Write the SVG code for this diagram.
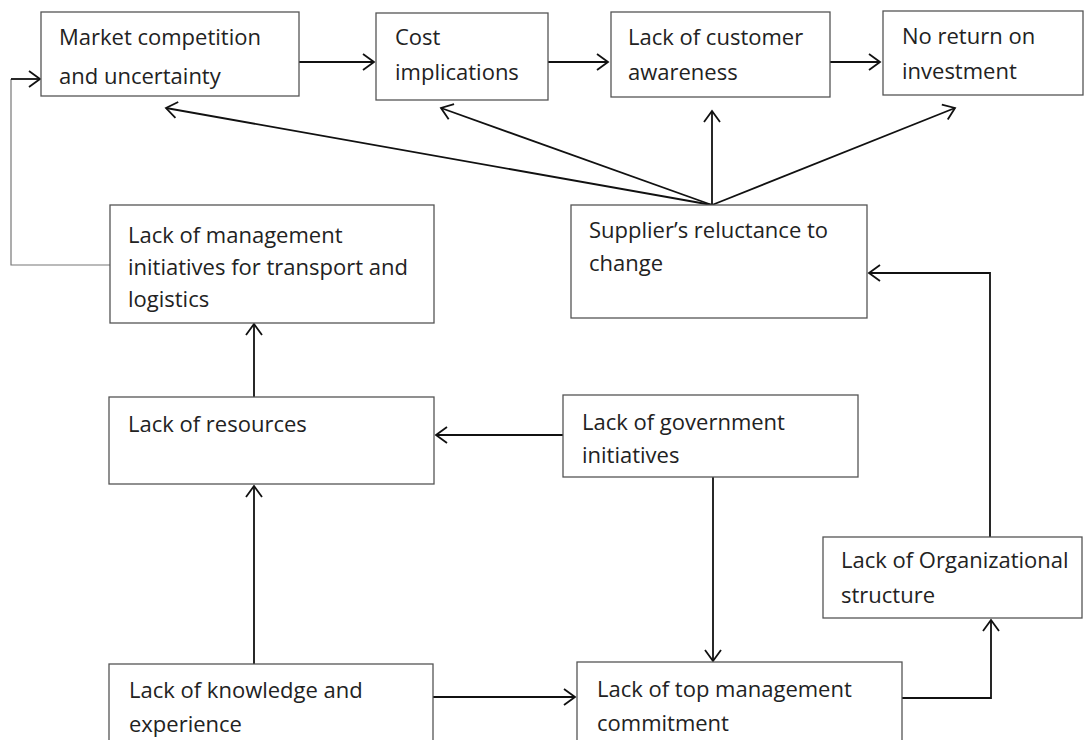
<svg xmlns="http://www.w3.org/2000/svg" width="1084" height="740" viewBox="0 0 1084 740">
  <defs>
    <style>
      .box{fill:#fff;stroke:#555;stroke-width:1.3}
      .t{font-family:"Open Sans","Liberation Sans",sans-serif;font-size:22px;fill:#222}
      .c{fill:none;stroke:#111;stroke-width:1.8}
      .thin{fill:none;stroke:#777;stroke-width:1.2}
    </style>
    <marker id="ah" viewBox="-13 -9 15 18" refX="0" refY="0" markerWidth="15" markerHeight="18" markerUnits="userSpaceOnUse" orient="auto">
      <path d="M-11,-8 L0,0 L-11,8" fill="none" stroke="#111" stroke-width="1.8"/>
    </marker>
  </defs>
  <rect width="1084" height="740" fill="#fff"/>

  <g id="connectors">
    <path class="c" d="M299,62 H374" marker-end="url(#ah)"/>
    <path class="c" d="M548,62 H608" marker-end="url(#ah)"/>
    <path class="c" d="M830,62 H880" marker-end="url(#ah)"/>
    <path class="thin" d="M110,265 H11 V79"/>
    <path class="c" d="M11,79 H40" marker-end="url(#ah)"/>
    <path class="c" d="M712,205 L166,108" marker-end="url(#ah)"/>
    <path class="c" d="M712,205 L441,108" marker-end="url(#ah)"/>
    <path class="c" d="M712,205 V111" marker-end="url(#ah)"/>
    <path class="c" d="M712,205 L955,108" marker-end="url(#ah)"/>
    <path class="c" d="M254,397 V324" marker-end="url(#ah)"/>
    <path class="c" d="M563,435 H436" marker-end="url(#ah)"/>
    <path class="c" d="M254,664 V486" marker-end="url(#ah)"/>
    <path class="c" d="M433,697 H575" marker-end="url(#ah)"/>
    <path class="c" d="M713,477 V661" marker-end="url(#ah)"/>
    <path class="c" d="M902,698 H991 V620" marker-end="url(#ah)"/>
    <path class="c" d="M990,537 V273 H869" marker-end="url(#ah)"/>
  </g>

  <g id="market">
    <rect class="box" x="41" y="12" width="258" height="84"/>
    <text class="t" x="59" y="45">Market competition</text>
    <text class="t" x="59" y="84">and uncertainty</text>
  </g>
  <g id="cost">
    <rect class="box" x="376" y="13" width="172" height="87"/>
    <text class="t" x="395" y="45">Cost</text>
    <text class="t" x="395" y="80">implications</text>
  </g>
  <g id="customer">
    <rect class="box" x="611" y="12" width="219" height="85"/>
    <text class="t" x="628" y="45">Lack of customer</text>
    <text class="t" x="628" y="80">awareness</text>
  </g>
  <g id="noreturn">
    <rect class="box" x="883" y="11" width="200" height="84"/>
    <text class="t" x="902" y="44">No return on</text>
    <text class="t" x="902" y="79">investment</text>
  </g>
  <g id="mgmt">
    <rect class="box" x="110" y="205" width="324" height="118"/>
    <text class="t" x="128" y="243">Lack of management</text>
    <text class="t" x="128" y="275">initiatives for transport and</text>
    <text class="t" x="128" y="307">logistics</text>
  </g>
  <g id="supplier">
    <rect class="box" x="571" y="205" width="296" height="113"/>
    <text class="t" x="589" y="238">Supplier’s reluctance to</text>
    <text class="t" x="589" y="271">change</text>
  </g>
  <g id="resources">
    <rect class="box" x="109" y="397" width="325" height="87"/>
    <text class="t" x="128" y="432">Lack of resources</text>
  </g>
  <g id="government">
    <rect class="box" x="563" y="395" width="295" height="82"/>
    <text class="t" x="582" y="430">Lack of government</text>
    <text class="t" x="582" y="463">initiatives</text>
  </g>
  <g id="org">
    <rect class="box" x="823" y="537" width="259" height="81"/>
    <text class="t" x="841" y="568">Lack of Organizational</text>
    <text class="t" x="841" y="603">structure</text>
  </g>
  <g id="knowledge">
    <rect class="box" x="109" y="664" width="324" height="90"/>
    <text class="t" x="129" y="698">Lack of knowledge and</text>
    <text class="t" x="129" y="732">experience</text>
  </g>
  <g id="topmgmt">
    <rect class="box" x="577" y="662" width="325" height="92"/>
    <text class="t" x="597" y="697">Lack of top management</text>
    <text class="t" x="597" y="731">commitment</text>
  </g>
</svg>
